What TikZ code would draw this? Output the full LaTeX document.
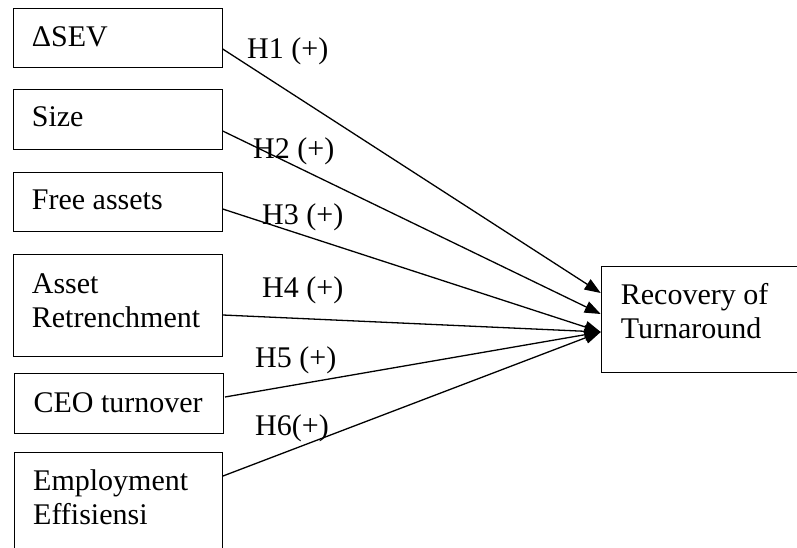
\documentclass[tikz,border=0pt]{standalone}
\usepackage{fontspec}
\setmainfont{Liberation Serif}
\usetikzlibrary{arrows.meta,calc}

\tikzset{
  box/.style={draw, line width=1pt, inner sep=0pt, anchor=north west},
  boxtext/.style={anchor=base west, inner sep=0pt, align=left,
                  font=\fontsize{30}{34}\selectfont},
  hyp/.style={anchor=base west, inner sep=0pt,
              font=\fontsize{30}{34}\selectfont},
  link/.style={line width=1.3pt, -{Triangle[length=16pt,width=12pt]}}
}

\begin{document}
\begin{tikzpicture}[x=1pt,y=-1pt]
  \useasboundingbox (0,0) rectangle (797,548);
  \clip (0,0) rectangle (797,548);

  % explanatory variables
  \node[box, minimum width=209pt,   minimum height=59pt]  (sev)   at (12.7,8)   {};
  \node[box, minimum width=209pt,   minimum height=60pt]  (size)  at (12.7,89)  {};
  \node[box, minimum width=209pt,   minimum height=59pt]  (free)  at (12.7,172) {};
  \node[box, minimum width=209pt,   minimum height=102pt] (asset) at (12.7,254) {};
  \node[box, minimum width=208.4pt, minimum height=60pt]  (ceo)   at (14.3,373) {};
  \node[box, minimum width=208pt,   minimum height=130pt] (emp)   at (14,452)   {};

  % outcome
  \node[box, minimum width=220pt, minimum height=106pt] (rec) at (600.7,266) {};

  % box texts (base anchor of a two-line node sits on its last line)
  \node[boxtext] at ($(sev.north west)+(19,39)$)   {ΔSEV};
  \node[boxtext] at ($(size.north west)+(19,38)$)  {Size};
  \node[boxtext] at ($(free.north west)+(19,37)$)  {Free assets};
  \node[boxtext] at ($(asset.north west)+(19,73)$) {Asset\\Retrenchment};
  \node[boxtext] at ($(ceo.north west)+(19,39)$)   {CEO turnover};
  \node[boxtext] at ($(emp.north west)+(19,72)$)   {Employment\\Effisiensi};
  \node[boxtext] at ($(rec.north west)+(20,72)$)   {Recovery of\\Turnaround};

  % hypothesised paths
  \draw[link] ($(sev.north east)+(0,41)$)   -- ($(rec.north west)+(0,27)$);
  \draw[link] ($(size.north east)+(0,42)$)  -- ($(rec.north west)+(0,48)$);
  \draw[link] ($(free.north east)+(0,37)$)  -- ($(rec.north west)+(0,66)$);
  \draw[link] ($(asset.north east)+(0,61)$) -- ($(rec.north west)+(0,66)$);
  \draw[link] ($(ceo.north east)+(1.3,24)$) -- ($(rec.north west)+(0,66)$);
  \draw[link] ($(emp.north east)+(0,24)$)   -- ($(rec.north west)+(0,66)$);

  % path labels
  \node[hyp] (h1) at (247,59)  {H1 (+)};
  \node[hyp] (h2) at (253,159) {H2 (+)};
  \node[hyp] (h3) at (262,224) {H3 (+)};
  \node[hyp] (h4) at (262,297) {H4 (+)};
  \node[hyp] (h5) at (255,367) {H5 (+)};
  \node[hyp] (h6) at (255,435) {H6(+)};
\end{tikzpicture}
\end{document}
